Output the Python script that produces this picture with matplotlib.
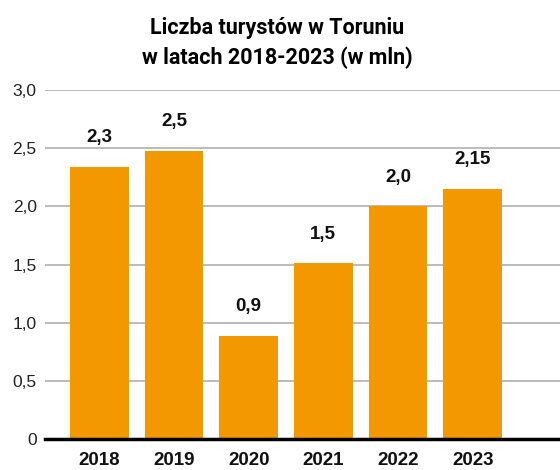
import matplotlib.pyplot as plt

years = ["2018", "2019", "2020", "2021", "2022", "2023"]
values = [2.34, 2.48, 0.89, 1.51, 2.0, 2.15]
valueLabels = ["2,3", "2,5", "0,9", "1,5", "2,0", "2,15"]
yTicks = [0, 0.5, 1.0, 1.5, 2.0, 2.5, 3.0]
yTickLabels = ["0", "0,5", "1,0", "1,5", "2,0", "2,5", "3,0"]

BAR_COLOR = "#f39800"

plt.rcParams['font.family'] = ['Liberation Sans', 'DejaVu Sans']

fig = plt.figure(figsize=(5.6, 4.7), dpi=100)
ax = fig.add_axes([0.0804, 0.0653, 0.9196, 0.7432])

positions = range(len(years))
ax.bar(positions, values, width=0.786, color=BAR_COLOR, zorder=2)

for i, (v, lab) in enumerate(zip(values, valueLabels)):
    ax.annotate(lab, (i, v), xytext=(0, 21), textcoords="offset points",
                ha="center", va="center", fontsize=13.5, fontweight="bold", color="#111111")

ax.set_ylim(0, 3.0)
ax.set_xlim(-0.727, 6.17)
ax.set_yticks(yTicks)
ax.set_yticklabels(yTickLabels, fontsize=12.5, color="#222222")
ax.set_xticks(list(positions))
ax.set_xticklabels(years, fontsize=13.5, fontweight="bold", color="#111111")
ax.tick_params(axis="both", length=0)
ax.tick_params(axis="x", pad=9)
ax.tick_params(axis="y", pad=6)

ax.grid(axis="y", color="#b5b5b5", linewidth=1.3, zorder=0)
for side in ["top", "right", "left"]:
    ax.spines[side].set_visible(False)
ax.spines["bottom"].set_linewidth(2.5)
ax.spines["bottom"].set_color("black")
ax.spines["bottom"].set_zorder(3)

fig.text(0.495, 0.909, "Liczba turystów w Toruniu\nw latach 2018-2023 (w mln)",
         ha="center", va="center", fontsize=15.5, fontweight="bold",
         family=['Roboto', 'DejaVu Sans'], linespacing=1.45)

fig.savefig("out.png", dpi=100)
